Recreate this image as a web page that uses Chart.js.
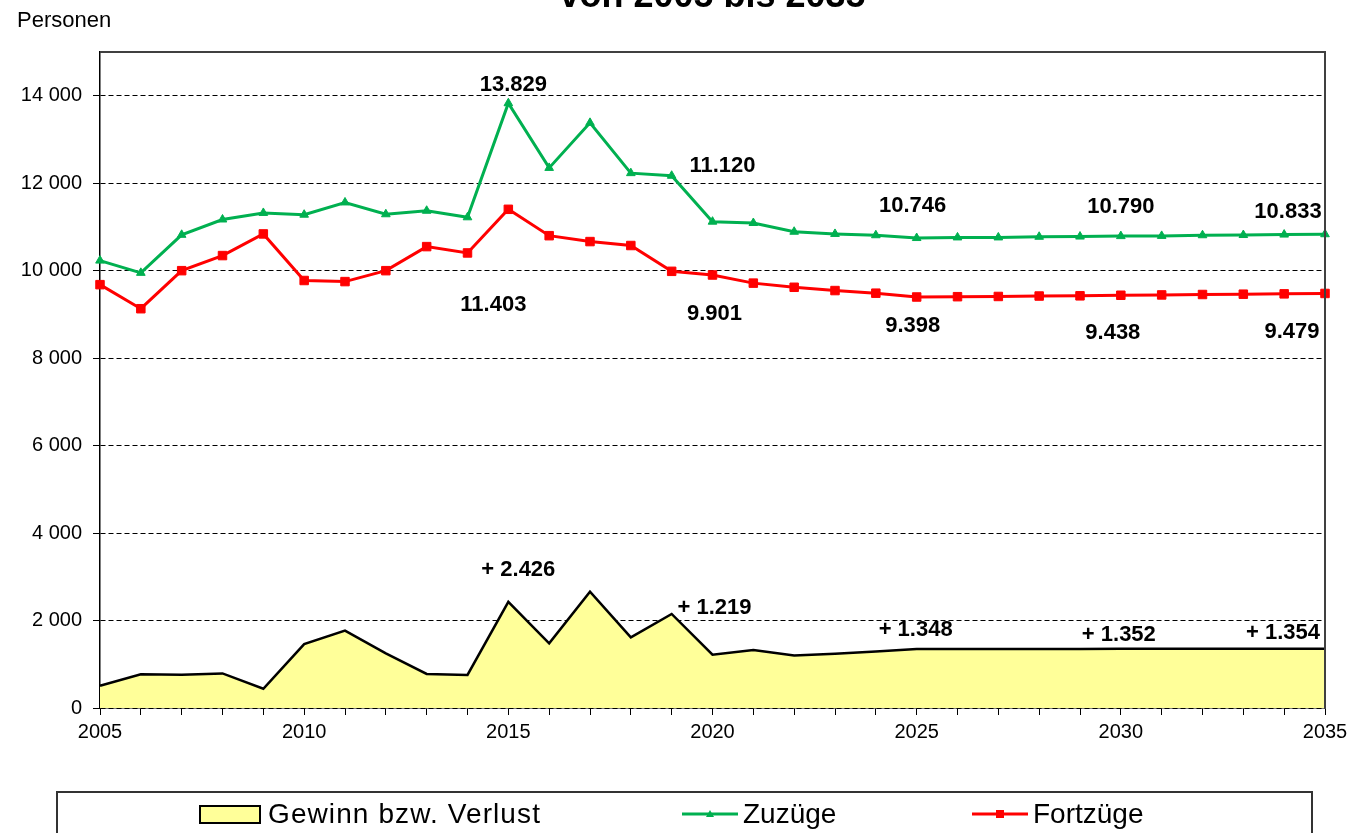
<!DOCTYPE html>
<html>
<head>
<meta charset="utf-8">
<script src="https://cdn.jsdelivr.net/npm/chart.js@4.4.1/dist/chart.umd.min.js"></script>
<style>
  html, body { margin: 0; padding: 0; background: #fff; overflow: hidden; }
  #wrap { position: relative; width: 1349px; height: 833px; }
</style>
</head>
<body>
<div id="wrap"><canvas id="chart"></canvas></div>
<script>
// Jahre 2005 - 2035
const years = [2005, 2006, 2007, 2008, 2009, 2010, 2011, 2012, 2013, 2014,
  2015, 2016, 2017, 2018, 2019, 2020, 2021, 2022, 2023, 2024,
  2025, 2026, 2027, 2028, 2029, 2030, 2031, 2032, 2033, 2034, 2035];

const zuzuege = [10230, 9950, 10820, 11170, 11320, 11280, 11560, 11290, 11370, 11220,
  13829, 12350, 13380, 12230, 12170, 11120, 11090, 10890, 10840, 10810,
  10746, 10760, 10760, 10775, 10780, 10790, 10795, 10810, 10815, 10825, 10833];

const fortzuege = [9680, 9130, 10000, 10345, 10840, 9775, 9750, 10000, 10550, 10405,
  11403, 10800, 10665, 10575, 9985, 9901, 9715, 9620, 9545, 9485,
  9398, 9405, 9410, 9420, 9425, 9438, 9445, 9455, 9462, 9470, 9479];

const gewinn = [510, 770, 760, 790, 440, 1460, 1770, 1250, 780, 755,
  2426, 1480, 2660, 1615, 2150, 1219, 1325, 1200, 1240, 1290,
  1348, 1349, 1350, 1350, 1351, 1352, 1352, 1353, 1353, 1354, 1354];

const yTicks = [0, 2000, 4000, 6000, 8000, 10000, 12000, 14000];
const labelYears = [2015, 2020, 2025, 2030, 2035];

const FONT = "Arial, 'Liberation Sans', sans-serif";

// Versatz der Wertbeschriftungen (px) je Datenreihe und Jahr
const noteOffsets = {
  0: [[10, -32], [2, -47], [-1, -19], [-2, -14], [-42, -16]],
  1: [[5, -18], [10, -56], [-4, -32], [0, -29], [-37, -22]],
  2: [[-15, 96], [2, 39], [-4, 29], [-8, 38], [-33, 38]]
};

function fmtSpace(v) {
  return String(v).replace(/\B(?=(\d{3})+(?!\d))/g, ' ');
}
function fmtDot(v) {
  return String(v).replace(/\B(?=(\d{3})+(?!\d))/g, '.');
}

const pts = arr => years.map((y, i) => ({ x: y, y: arr[i] }));

const extras = {
  id: 'extras',
  afterDraw(chart) {
    const { ctx, chartArea: a, scales } = chart;
    ctx.save();

    // Rahmen oben und rechts
    ctx.strokeStyle = '#404040';
    ctx.lineWidth = 2;
    ctx.beginPath();
    ctx.moveTo(a.left, a.top);
    ctx.lineTo(a.right, a.top);
    ctx.lineTo(a.right, a.bottom);
    ctx.stroke();

    // Titel (oben abgeschnitten)
    ctx.fillStyle = '#000';
    ctx.font = 'bold 36px ' + FONT;
    ctx.textAlign = 'center';
    ctx.textBaseline = 'alphabetic';
    ctx.fillText('von 2005 bis 2035', (a.left + a.right) / 2, 7);

    // Achsentitel
    ctx.font = '22px ' + FONT;
    ctx.textAlign = 'left';
    ctx.fillText('Personen', 17, 27);

    // Wertbeschriftungen
    ctx.font = 'bold 22px ' + FONT;
    ctx.textAlign = 'center';
    ctx.textBaseline = 'middle';
    chart.data.datasets.forEach((ds, di) => {
      labelYears.forEach((yr, k) => {
        const idx = years.indexOf(yr);
        const v = ds.data[idx].y;
        const txt = (di === 0 ? '+ ' : '') + fmtDot(v);
        const [dx, dy] = noteOffsets[di][k];
        ctx.fillText(txt, scales.x.getPixelForValue(yr) + dx, scales.y.getPixelForValue(v) + dy);
      });
    });

    // Legende
    const lx = [200, 682, 972];
    const ly = 814;
    ctx.strokeStyle = '#333';
    ctx.lineWidth = 2;
    ctx.strokeRect(57, 792, 1255, 60);
    ctx.font = '28px ' + FONT;
    ctx.textAlign = 'left';
    chart.data.datasets.forEach((ds, di) => {
      const x = lx[di];
      if (di === 0) {
        ctx.fillStyle = ds.backgroundColor;
        ctx.fillRect(x, ly - 8, 60, 17);
        ctx.strokeStyle = '#000';
        ctx.lineWidth = 2;
        ctx.strokeRect(x, ly - 8, 60, 17);
        ctx.fillStyle = '#000';
        ctx.letterSpacing = '1.1px';
        ctx.fillText(ds.label, x + 68, ly + 1);
        ctx.letterSpacing = '0px';
      } else {
        ctx.strokeStyle = ds.borderColor;
        ctx.lineWidth = 3;
        ctx.beginPath();
        ctx.moveTo(x, ly);
        ctx.lineTo(x + 56, ly);
        ctx.stroke();
        ctx.fillStyle = ds.borderColor;
        if (ds.pointStyle === 'triangle') {
          ctx.beginPath();
          ctx.moveTo(x + 28, ly - 4);
          ctx.lineTo(x + 32, ly + 3);
          ctx.lineTo(x + 24, ly + 3);
          ctx.closePath();
          ctx.fill();
        } else {
          ctx.fillRect(x + 24, ly - 4, 8, 8);
        }
        ctx.fillStyle = '#000';
        ctx.fillText(ds.label, x + 61, ly + 1);
      }
    });
    ctx.restore();
  }
};

new Chart(document.getElementById('chart'), {
  type: 'line',
  data: {
    datasets: [
      {
        label: 'Gewinn bzw. Verlust',
        data: pts(gewinn),
        backgroundColor: '#FFFF99',
        borderColor: '#000',
        borderWidth: 2.5,
        fill: 'origin',
        pointRadius: 0,
        tension: 0,
        clip: false
      },
      {
        label: 'Zuzüge',
        data: pts(zuzuege),
        borderColor: '#00B050',
        backgroundColor: '#00B050',
        borderWidth: 3,
        pointStyle: 'triangle',
        pointRadius: 5,
        pointBorderWidth: 1,
        fill: false,
        tension: 0,
        clip: false
      },
      {
        label: 'Fortzüge',
        data: pts(fortzuege),
        borderColor: '#FF0000',
        backgroundColor: '#FF0000',
        borderWidth: 3,
        pointStyle: 'rect',
        pointRadius: 6,
        pointBorderWidth: 1,
        fill: false,
        tension: 0,
        clip: false
      }
    ]
  },
  options: {
    responsive: true,
    maintainAspectRatio: false,
    animation: false,
    layout: { padding: { top: 52, left: 0, right: 24, bottom: 43 } },
    plugins: {
      legend: { display: false },
      tooltip: { enabled: false },
      title: { display: false }
    },
    scales: {
      x: {
        type: 'linear',
        min: 2005,
        max: 2035,
        afterFit: s => { s.height = 82; s.paddingLeft = 0; s.paddingRight = 0; },
        ticks: {
          stepSize: 1,
          autoSkip: false,
          maxRotation: 0,
          padding: 5,
          color: '#000',
          font: { family: FONT, size: 20 },
          callback: v => (v % 5 === 0 ? String(v) : '')
        },
        grid: { drawOnChartArea: false, drawTicks: true, tickLength: 7, tickColor: '#000', tickWidth: 1 },
        border: { color: '#000', width: 1.5 }
      },
      y: {
        min: 0,
        max: 15000,
        afterFit: s => { s.width = 100; s.paddingTop = 0; s.paddingBottom = 0; },
        afterBuildTicks: s => { s.ticks = yTicks.map(v => ({ value: v })); },
        ticks: {
          padding: 11,
          color: '#000',
          font: { family: FONT, size: 20 },
          callback: v => fmtSpace(v)
        },
        grid: { color: '#000', lineWidth: 1, tickLength: 7, tickColor: '#000', tickBorderDash: [] },
        border: { color: '#000', width: 1.5, dash: [5, 3] }
      }
    }
  },
  plugins: [extras]
});
</script>
</body>
</html>
